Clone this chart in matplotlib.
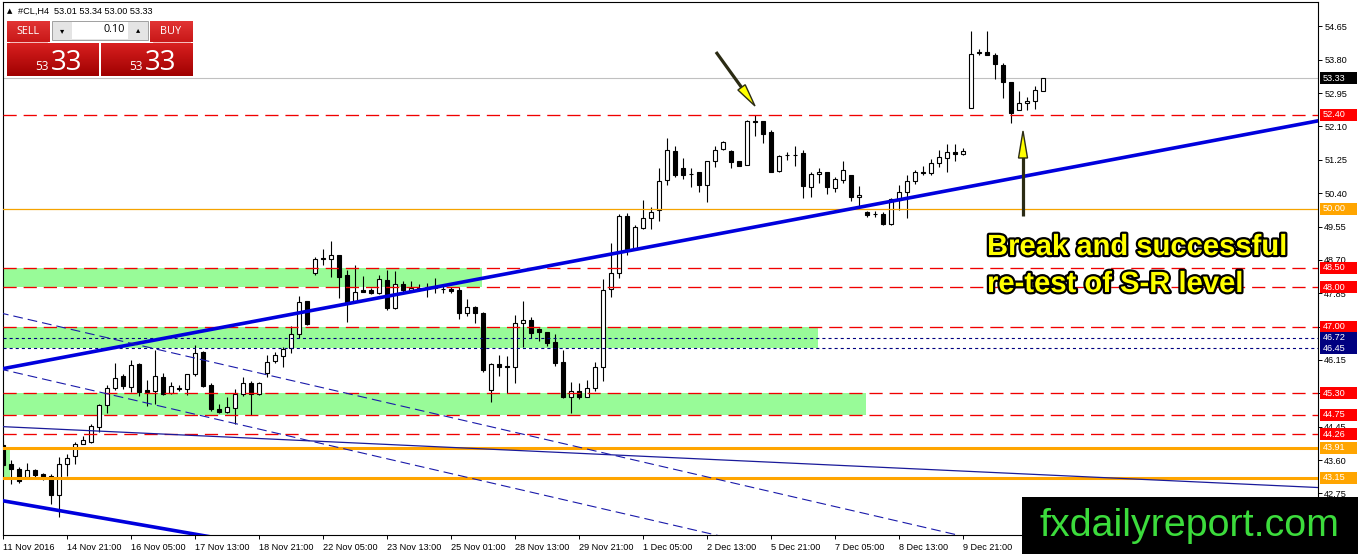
import matplotlib
matplotlib.use('Agg')
import matplotlib.pyplot as plt
import matplotlib.transforms as mtransforms
import matplotlib.patheffects as pe
from matplotlib.patches import Rectangle, Polygon
from matplotlib.lines import Line2D
from matplotlib.colors import LinearSegmentedColormap
from matplotlib import font_manager
import numpy as np

W, H = 1358, 554

# #CL H4 candles, 11 Nov .. 13 Dec 2016
opens = [43.98, 43.51, 43.36, 43.16, 43.34, 43.24, 43.20, 42.72, 43.51, 43.71,
         44.00, 44.06, 44.45, 45.00, 45.43, 45.74, 45.47, 46.04, 45.38, 45.36,
         45.71, 45.31, 45.44, 45.40, 45.78, 46.34, 45.51, 44.90, 44.83, 44.93,
         45.27, 45.55, 45.27, 45.81, 46.12, 46.26, 46.45, 46.81, 47.64, 48.36,
         48.74, 48.72, 48.83, 48.32, 47.64, 47.93, 47.92, 47.86, 48.19, 47.47,
         48.09, 47.93, 47.98, 48.00, 47.99, 47.96, 47.97, 47.92, 47.34, 47.51,
         47.34, 45.38, 46.04, 46.00, 45.98, 47.10, 47.17, 46.94, 46.85, 46.60,
         46.09, 45.21, 45.36, 45.20, 45.43, 45.96, 47.95, 48.36, 49.82, 48.97,
         49.51, 49.76, 49.97, 50.74, 51.48, 51.04, 50.89, 50.93, 50.61, 51.21,
         51.52, 51.48, 51.21, 51.12, 52.24, 52.25, 51.95, 50.97, 51.36, 51.38,
         51.42, 50.55, 50.89, 50.95, 50.53, 50.74, 50.85, 50.30, 49.93, 49.88,
         49.87, 49.62, 50.23, 50.44, 50.72, 50.94, 50.91, 51.17, 51.29, 51.45,
         51.40, 52.58, 53.98, 54.00, 53.93, 53.66, 53.23, 52.51, 52.70, 52.76,
         53.01]
highs = [44.10, 43.60, 43.43, 43.53, 43.38, 43.28, 43.24, 43.68, 43.75, 44.06,
         44.21, 44.51, 45.03, 45.51, 46.06, 45.79, 46.15, 46.06, 45.64, 46.40,
         45.83, 45.59, 45.50, 45.78, 46.53, 46.39, 45.56, 45.04, 45.20, 45.40,
         45.71, 45.62, 45.60, 46.28, 46.36, 46.49, 47.02, 47.78, 47.66, 48.78,
         48.98, 49.18, 48.83, 48.44, 48.57, 48.29, 47.98, 48.32, 48.43, 48.42,
         48.17, 48.17, 48.09, 48.12, 48.23, 48.04, 48.00, 48.00, 47.70, 47.52,
         47.36, 46.06, 46.28, 46.25, 47.30, 47.64, 47.25, 46.96, 46.87, 46.81,
         46.40, 45.58, 45.55, 45.64, 46.10, 48.21, 49.12, 49.87, 49.89, 49.59,
         50.23, 50.04, 51.04, 51.80, 51.61, 51.29, 51.04, 50.93, 51.22, 51.59,
         51.74, 51.51, 51.22, 52.27, 52.40, 52.25, 52.02, 51.38, 51.46, 51.59,
         51.51, 50.93, 51.04, 50.95, 50.82, 51.21, 50.85, 50.59, 49.94, 49.94,
         49.91, 50.27, 50.61, 50.87, 50.99, 51.08, 51.27, 51.51, 51.66, 51.65,
         51.56, 54.54, 54.08, 54.52, 53.97, 53.72, 53.23, 52.99, 52.85, 53.12,
         53.34]
lows = [43.42, 42.98, 43.02, 43.16, 43.18, 43.08, 42.49, 42.14, 43.20, 43.51,
        44.00, 44.04, 44.32, 44.80, 45.38, 45.40, 45.34, 45.24, 44.97, 45.03,
        45.26, 45.28, 45.36, 45.26, 45.75, 45.45, 44.85, 44.80, 44.80, 44.52,
        45.23, 44.76, 45.25, 45.72, 46.08, 45.96, 46.33, 46.70, 47.05, 48.31,
        48.57, 48.26, 47.72, 47.12, 47.64, 47.89, 47.84, 47.84, 47.41, 47.44,
        47.89, 47.91, 47.91, 47.76, 47.85, 47.85, 47.85, 47.19, 47.27, 47.08,
        45.85, 45.08, 45.74, 45.31, 45.57, 46.49, 46.70, 46.64, 46.51, 45.99,
        45.19, 44.79, 45.15, 45.20, 45.36, 45.62, 47.76, 48.25, 48.83, 48.95,
        49.48, 49.48, 49.70, 50.61, 50.81, 50.76, 50.55, 50.42, 50.17, 51.06,
        51.51, 51.04, 51.08, 51.11, 51.86, 51.69, 50.93, 50.93, 51.25, 51.08,
        50.27, 50.30, 50.67, 50.38, 50.44, 50.66, 50.19, 50.06, 49.80, 49.80,
        49.59, 49.60, 49.97, 49.76, 50.64, 50.87, 50.87, 51.06, 50.93, 51.21,
        51.36, 52.57, 53.93, 53.91, 53.31, 52.82, 52.19, 52.51, 52.53, 52.54,
        53.00]
closes = [43.47, 43.36, 43.06, 43.34, 43.23, 43.17, 42.70, 43.49, 43.64, 44.00,
          44.10, 44.46, 44.99, 45.44, 45.70, 45.48, 46.02, 45.34, 45.34, 45.74,
          45.28, 45.48, 45.41, 45.78, 46.32, 45.48, 44.89, 44.83, 44.94, 45.27,
          45.55, 45.27, 45.55, 46.10, 46.28, 46.42, 46.81, 47.62, 47.07, 48.72,
          48.72, 48.83, 48.26, 47.61, 47.89, 47.89, 47.86, 48.21, 47.47, 48.09,
          47.93, 47.98, 47.96, 48.02, 48.00, 47.95, 47.91, 47.34, 47.51, 47.35,
          45.89, 46.04, 45.96, 45.96, 47.08, 47.17, 46.84, 46.87, 46.59, 46.08,
          45.21, 45.36, 45.21, 45.43, 45.96, 47.93, 48.36, 49.82, 48.97, 49.53,
          49.76, 49.93, 50.71, 51.51, 50.87, 50.87, 50.88, 50.61, 51.22, 51.51,
          51.71, 51.19, 51.10, 52.23, 52.22, 51.91, 50.95, 51.35, 51.37, 51.37,
          50.57, 50.89, 50.93, 50.55, 50.76, 50.99, 50.31, 50.36, 49.85, 49.87,
          49.62, 50.25, 50.42, 50.72, 50.95, 50.92, 51.17, 51.32, 51.45, 51.40,
          51.48, 53.95, 53.99, 53.93, 53.69, 53.23, 52.44, 52.70, 52.76, 53.04,
          53.33]

time_labels = ['11 Nov 2016', '14 Nov 21:00', '16 Nov 05:00', '17 Nov 13:00',
               '18 Nov 21:00', '22 Nov 05:00', '23 Nov 13:00', '25 Nov 01:00',
               '28 Nov 13:00', '29 Nov 21:00', '1 Dec 05:00', '2 Dec 13:00',
               '5 Dec 21:00', '7 Dec 05:00', '8 Dec 13:00', '9 Dec 21:00']
bars_per_label = 8

price_ticks = [42.75, 43.60, 44.45, 45.30, 46.15, 47.00, 47.85, 48.70,
               49.55, 50.40, 51.25, 52.10, 52.95, 53.80, 54.65]

red_levels = [52.40, 48.50, 48.00, 47.00, 45.30, 44.75, 44.26]
navy_levels = [46.72, 46.45]
orange_thin = [50.00]
orange_thick = [43.91, 43.15]
last_price = 53.33

# S/R zones: bar range and price range
zone_from = [-1, -1, -1, -1]
zone_to = [59.9, 101.9, 107.8, 0.8]
zone_low = [48.00, 46.45, 44.75, 43.15]
zone_high = [48.50, 47.00, 45.30, 43.91]

# trend lines, two anchors each: (bar, price)
trend_main = [(0.0, 45.93), (164.3, 52.24)]
trend_low = [(0.0, 42.56), (24.0, 41.71)]
trend_thin = [(0.0, 44.45), (164.3, 42.90)]
channel_a = [(0.0, 47.33), (125.0, 41.42)]
channel_b = [(0.0, 45.90), (95.0, 41.41)]

fonts = {f.name for f in font_manager.fontManager.ttflist}
UI = 'Liberation Sans'
NARROW = 'Liberation Sans Narrow' if 'Liberation Sans Narrow' in fonts else 'Liberation Sans'


def px_tf(fig):
    # pixel coords measured from the top-left corner of the picture
    return mtransforms.Affine2D().scale(1.0 / W, -1.0 / H).translate(0, 1) + fig.transFigure


def fit_width(fig, t, width_px):
    r = fig.canvas.get_renderer()
    w = t.get_window_extent(r).width
    t.set_fontsize(t.get_fontsize() * width_px / w)


def grad_box(fig, x, y, w, h, top, bottom):
    bx = fig.add_axes([x / W, 1 - (y + h) / H, w / W, h / H], zorder=5)
    cmap = LinearSegmentedColormap.from_list('g', [bottom, top])
    bx.imshow(np.linspace(1, 0, 32).reshape(-1, 1), aspect='auto', cmap=cmap,
              vmin=0, vmax=1, extent=(0, 1, 0, 1))
    bx.set_axis_off()
    return bx


def arrow(fig, tail, tip, head_len, head_w):
    tf = px_tf(fig)
    tail = np.array(tail, float)
    tip = np.array(tip, float)
    d = (tip - tail) / np.hypot(*(tip - tail))
    n = np.array([-d[1], d[0]])
    base = tip - d * head_len
    fig.add_artist(Line2D([tail[0], base[0] + d[0] * 4], [tail[1], base[1] + d[1] * 4],
                          transform=tf, color='#2b2b14', lw=2.3,
                          solid_capstyle='butt', zorder=3))
    fig.add_artist(Polygon([tip, base + n * head_w / 2, base - n * head_w / 2],
                           closed=True, transform=tf, fc='#ffff00', ec='#2b2b14',
                           lw=1.0, zorder=3.1))


def draw_candles(ax):
    x = np.arange(len(opens))
    o, h, l, c = map(np.array, (opens, highs, lows, closes))
    ax.vlines(x, l, h, colors='black', lw=0.8, zorder=3)
    bottom = np.minimum(o, c)
    height = np.maximum(np.abs(c - o), 0.004)
    face = ['white' if cc >= oo else 'black' for oo, cc in zip(o, c)]
    ax.bar(x, height, bottom=bottom, width=0.52, color=face, edgecolor='black',
           linewidth=0.8, zorder=3.2)


def draw_levels(ax):
    for a, b, lo, hi in zip(zone_from, zone_to, zone_low, zone_high):
        ax.add_patch(Rectangle((a, lo), b - a, hi - lo, fc='#98fb98', ec='none', zorder=0.5))
    for p in red_levels:
        ax.axhline(p, color='#f00000', lw=0.95, dashes=(9.5, 5), zorder=4)
    for p in navy_levels:
        ax.axhline(p, color='#000080', lw=0.8, dashes=(2.2, 2.2), zorder=4)
    for p in orange_thin:
        ax.axhline(p, color='#f5a300', lw=0.9, zorder=4)
    for p in orange_thick:
        ax.axhline(p, color='#ffa500', lw=2.2, zorder=4)
    ax.axhline(last_price, color='#c0c0c0', lw=0.8, zorder=2.5)

    def seg(pts, **kw):
        (x0, y0), (x1, y1) = pts
        k = (y1 - y0) / (x1 - x0)
        ax.plot([x0 - 5, x1 + 10], [y0 - 5 * k, y1 + 10 * k], **kw)

    seg(trend_main, color='#0000dd', lw=2.6, zorder=4.5, solid_capstyle='butt')
    seg(trend_low, color='#0000dd', lw=2.6, zorder=4.5, solid_capstyle='butt')
    seg(trend_thin, color='#1a1a9a', lw=0.9, zorder=4.5)
    seg(channel_a, color='#1a1aaa', lw=0.8, dashes=(7, 3.6), zorder=4.5)
    seg(channel_b, color='#1a1aaa', lw=0.8, dashes=(7, 3.6), zorder=4.5)


def price_boxes(ax):
    tf = mtransforms.blended_transform_factory(ax.transAxes, ax.transData)
    ax_w = 1315.0
    half = 6.0 / 39.25
    boxes = ([(p, '#ff0000') for p in red_levels] + [(p, '#000080') for p in navy_levels] +
             [(p, '#ffa500') for p in orange_thin + orange_thick] + [(last_price, '#000000')])
    for p, col in boxes:
        ax.add_patch(Rectangle((1 + 2 / ax_w, p - half), 37 / ax_w, 2 * half, transform=tf,
                               fc=col, ec='none', clip_on=False, zorder=6))
        ax.text(1 + 5 / ax_w, p, '%.2f' % p, transform=tf, color='white', fontsize=6.6,
                family=UI, va='center', ha='left', zorder=7, clip_on=False)


def trade_panel(fig):
    tf = px_tf(fig)
    grad_box(fig, 7, 21, 42, 21, '#e23434', '#c81818')
    grad_box(fig, 150, 21, 43, 21, '#e23434', '#c81818')
    grad_box(fig, 7, 43, 92, 33, '#d82020', '#a00000')
    grad_box(fig, 101, 43, 92, 33, '#d82020', '#a00000')
    fig.add_artist(Rectangle((52, 21), 96, 19, transform=tf, fc='#e4e4e4', ec='#a0a0a0', lw=0.7, zorder=5))
    fig.add_artist(Rectangle((72, 22), 56, 17, transform=tf, fc='white', ec='none', zorder=5.1))
    for xl in (10, 153):
        fig.add_artist(Line2D([xl, xl + 37], [41.5, 41.5], transform=tf, color='#f4b0b0', lw=0.6, zorder=6))
    bid = '%.2f' % last_price
    big, small = bid[-2:], bid[:2]
    kw = dict(transform=tf, zorder=10, family='Open Sans')
    fig.text(28, 31, 'SELL', color='white', fontsize=7.8, ha='center', va='center', **kw)
    fig.text(171, 31, 'BUY', color='white', fontsize=7.8, ha='center', va='center', **kw)
    fig.text(125, 30, '%.2f' % 0.10, color='black', fontsize=7.8, ha='right', va='center', **kw)
    fig.text(62, 31, '▾', color='black', fontsize=6, ha='center', va='center',
             transform=tf, zorder=10, family='DejaVu Sans')
    fig.text(138, 30, '▴', color='black', fontsize=6, ha='center', va='center',
             transform=tf, zorder=10, family='DejaVu Sans')
    for x0 in (49, 143):
        fig.text(x0, 70, small, color='white', fontsize=8.5, ha='right', va='baseline', **kw)
        fig.text(x0 + 2, 69.5, big, color='white', fontsize=20, ha='left', va='baseline', **kw)


if __name__ == '__main__':
    plt.rcParams['lines.scale_dashes'] = False
    fig = plt.figure(figsize=(W / 100, H / 100), dpi=100, facecolor='white')
    ax = fig.add_axes([3 / W, (H - 535) / H, 1315 / W, 533 / H], zorder=0)

    draw_levels(ax)
    draw_candles(ax)

    ax.set_xlim(-0.04, 164.35)
    ax.set_ylim(41.69, 55.27)
    ax.yaxis.tick_right()
    ax.set_yticks(price_ticks)
    ax.set_yticklabels(['%.2f' % p for p in price_ticks], family=UI, fontsize=6.6)
    ax.set_xticks(np.arange(len(time_labels)) * bars_per_label)
    ax.set_xticklabels(time_labels, family=UI, fontsize=6.6, ha='left')
    ax.tick_params(axis='both', direction='out', length=2.9, width=0.7, pad=1.6, colors='black')
    ax.tick_params(axis='x', pad=2.6)
    for s in ax.spines.values():
        s.set_linewidth(0.8)
        s.set_color('black')

    price_boxes(ax)

    tf = px_tf(fig)
    fig.text(10, 11, '▲', fontsize=5, family='DejaVu Sans', va='center', ha='center',
             transform=tf, zorder=10)
    fig.text(18, 11, '#CL,H4  %.2f %.2f %.2f %.2f' % (opens[-1], highs[-1], lows[-1], closes[-1]),
             fontsize=6.6, family=UI, va='center', ha='left', transform=tf, zorder=10)
    trade_panel(fig)

    arrow(fig, (716, 52), (755, 106), 23, 9)
    arrow(fig, (1023, 216), (1023, 131), 27, 9)

    stroke = [pe.withStroke(linewidth=3.2, foreground='black')]
    t1 = fig.text(987, 255, 'Break and successful', color='#ffff00', fontsize=21,
                  weight='bold', family=UI, va='baseline', ha='left', transform=tf,
                  path_effects=stroke, zorder=4)
    t2 = fig.text(987, 292, 're-test of S-R level', color='#ffff00', fontsize=21,
                  weight='bold', family=UI, va='baseline', ha='left', transform=tf,
                  path_effects=stroke, zorder=4)
    fit_width(fig, t1, 300)
    t2.set_fontsize(t1.get_fontsize())

    fig.add_artist(Rectangle((1022, 497), 336, 57, transform=tf, fc='black', ec='none', zorder=8))
    brand = fig.text(1040, 536, 'fxdailyreport.com', color='#3cdc3c', fontsize=30,
                     family=NARROW, va='baseline', ha='left', transform=tf, zorder=9)
    fit_width(fig, brand, 300)

    fig.savefig('out.png', dpi=100, facecolor='white')
